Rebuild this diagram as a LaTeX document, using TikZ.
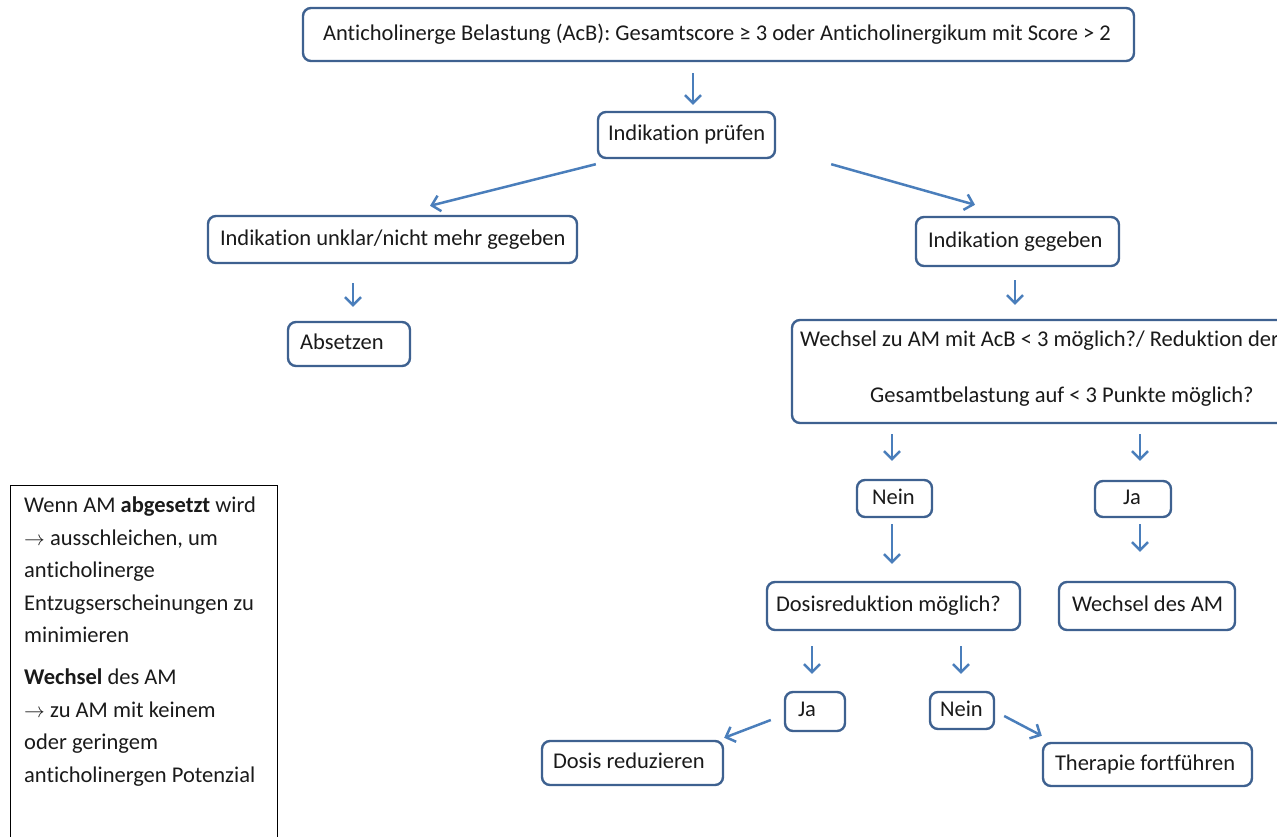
\documentclass[tikz,border=0pt]{standalone}
\usepackage{fontspec}
\setmainfont{Carlito}[Ligatures=NoCommon]
\usetikzlibrary{arrows.meta}
\definecolor{boxline}{HTML}{3E6190}
\definecolor{arrowblue}{HTML}{4A7EBB}
\definecolor{inkblack}{HTML}{1A1A1A}

\tikzset{
  flowbox/.style={draw=boxline, line width=2.4pt, rounded corners=8pt, fill=white,
    inner ysep=0pt, text=inkblack, font=\fontsize{22.5}{26}\selectfont},
  plaintext/.style={inner sep=0pt, text=inkblack, font=\fontsize{22.5}{26}\selectfont},
  arr/.style={draw=arrowblue, line width=2.5pt, -{Straight Barb[length=8pt,width=16pt]}},
}

% box: name, x1, y1, x2, y2, x of text start, text
\newcommand\placebox[7]{%
  \pgfmathsetlengthmacro\bw{(#4-#2)*1pt}%
  \pgfmathsetlengthmacro\bh{(#5-#3)*1pt}%
  \pgfmathsetlengthmacro\bpad{(#6-#2)*1pt}%
  \pgfmathsetlengthmacro\btw{(#4-#2-2*(#6-#2))*1pt}%
  \node[flowbox, minimum width=\bw, minimum height=\bh, inner xsep=\bpad]
    (#1) at ({(#2+#4)/2},{(#3+#5)/2}) {\makebox[\btw][l]{#7\vphantom{Ag}}};%
}

\begin{document}
\begin{tikzpicture}[x=1pt, y=-1pt]
\useasboundingbox (0,0) rectangle (1277,837);
\clip (0,0) rectangle (1277,837);

% flow boxes
\placebox{top}{303}{8}{1134}{61}{323}{Anticholinerge Belastung (AcB): Gesamtscore ≥ 3 oder Anticholinergikum mit Score > 2}
\placebox{pruef}{598}{112}{775}{158}{608}{Indikation prüfen}
\placebox{unklar}{208}{216}{577}{263}{220}{Indikation unklar/nicht mehr gegeben}
\placebox{gegeben}{916}{217}{1119}{266}{928}{Indikation gegeben}
\placebox{absetzen}{288}{322}{410}{366}{300}{Absetzen}
\node[flowbox, minimum width=498pt, minimum height=103pt] (wech) at (1041,371.5) {};
\node[plaintext, anchor=west] (wechA) at (800,341) {Wechsel zu AM mit AcB < 3 möglich?/ Reduktion der\vphantom{Ag}};
\node[plaintext, anchor=west] (wechB) at (870,397) {Gesamtbelastung auf < 3 Punkte möglich?\vphantom{Ag}};
\placebox{neinA}{857}{480}{932}{517}{872}{Nein}
\placebox{jaA}{1095}{481}{1171}{517}{1123}{Ja}
\placebox{dosis}{767}{582}{1020}{630}{776}{Dosisreduktion möglich?}
\placebox{wechselam}{1059}{582}{1235}{630}{1072}{Wechsel des AM}
\placebox{jaB}{785}{692}{845}{731}{798}{Ja}
\placebox{neinB}{930}{692}{994}{729}{940}{Nein}
\placebox{reduz}{542}{741}{723}{785}{553}{Dosis reduzieren}
\placebox{fortf}{1043}{743}{1252}{786}{1055}{Therapie fortführen}

% side note
\node[draw=black, line width=1.3pt, minimum width=267pt, minimum height=380pt,
      anchor=north west] (notebox) at (10,485) {};
\node[plaintext, anchor=north west, align=left, font=\fontsize{22.5}{32.5}\selectfont]
  (notetext) at (24,497) {Wenn AM \textbf{abgesetzt} wird\\
  $\rightarrow$ ausschleichen, um\\
  anticholinerge\\
  Entzugserscheinungen zu\\
  minimieren\\[9.5pt]
  \textbf{Wechsel} des AM\\
  $\rightarrow$ zu AM mit keinem\\
  oder geringem\\
  anticholinergen Potenzial};

% connectors
\draw[arr, shorten <=11pt, shorten >=6pt]
  ([xshift=6.5pt]pruef.north |- top.south) -- ([xshift=6.5pt]pruef.north);
\draw[arr] ([shift={(-1pt,-5pt)}]pruef.south west) -- ([shift={(37.5pt,9pt)}]unklar.north);
\draw[arr] ([shift={(55pt,-5pt)}]pruef.south east) -- ([shift={(-42.5pt,11pt)}]gegeben.north);
\draw[arr, shorten <=19pt, shorten >=14pt]
  ([xshift=4pt]absetzen.north |- unklar.south) -- ([xshift=4pt]absetzen.north);
\draw[arr, shorten <=13pt, shorten >=14pt]
  ([xshift=-2.5pt]gegeben.south) -- ([xshift=-2.5pt]gegeben.south |- wech.north);
\draw[arr, shorten <=10pt, shorten >=18pt]
  ([xshift=-2.5pt]neinA.north |- wech.south) -- ([xshift=-2.5pt]neinA.north);
\draw[arr, shorten <=10pt, shorten >=19pt]
  ([xshift=7pt]jaA.north |- wech.south) -- ([xshift=7pt]jaA.north);
\draw[arr, shorten <=6pt, shorten >=17pt]
  ([xshift=-2.5pt]neinA.south) -- ([xshift=-2.5pt]neinA.south |- dosis.north);
\draw[arr, shorten <=6pt, shorten >=29pt]
  ([xshift=7pt]jaA.south) -- ([xshift=7pt]jaA.south |- wechselam.north);
\draw[arr, shorten <=15pt, shorten >=17pt]
  ([xshift=-3pt]jaB.north |- dosis.south) -- ([xshift=-3pt]jaB.north);
\draw[arr, shorten <=15pt, shorten >=17pt]
  ([xshift=-1pt]neinB.north |- dosis.south) -- ([xshift=-1pt]neinB.north);
\draw[arr] ([shift={(-13pt,-8.5pt)}]jaB.west) -- ([yshift=2pt]reduz.north east);
\draw[arr] ([shift={(9pt,-5.5pt)}]neinB.east) -- ([yshift=6pt]fortf.north west);
\end{tikzpicture}
\end{document}
